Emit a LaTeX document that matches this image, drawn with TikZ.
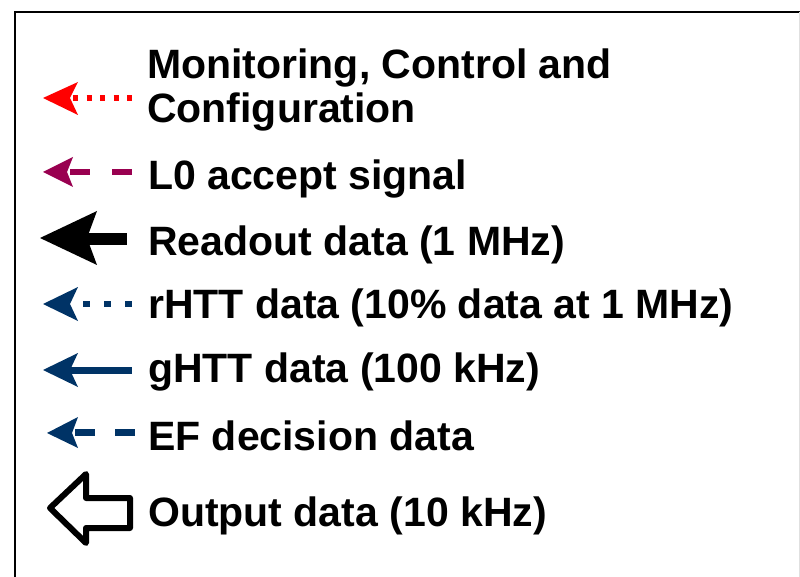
\documentclass[tikz,border=0pt]{standalone}
\usepackage{fontspec}
\setmainfont{Liberation Sans}
\definecolor{mccred}{RGB}{255,0,0}
\definecolor{lzero}{RGB}{153,0,80}
\definecolor{htnavy}{RGB}{0,51,102}
\tikzset{
  legtext/.style={anchor=base west, inner sep=0pt, align=left,
    font=\fontsize{41}{44}\selectfont\bfseries},
}
\begin{document}
\begin{tikzpicture}[x=1pt,y=-1pt]
\useasboundingbox (0,0) rectangle (800,577);
% frame
\draw[line width=2pt] (15,590) -- (15,12) -- (805,12);
\draw[line width=1pt, black!12] (799.5,12) -- (799.5,590);

% Monitoring, Control and Configuration
\fill[mccred] (43,98) -- (78,82) -- (70,98) -- (78,115) -- cycle;
\draw[mccred, line width=6pt, dash pattern=on 5pt off 8.5pt] (73,98) -- (132,98);
\node[legtext] (mcc) at (147,123) {Monitoring, Control and\\Configuration};

% L0 accept signal
\fill[lzero] (43,172) -- (73,157) -- (67,172) -- (73,187) -- cycle;
\draw[lzero, line width=6pt, dash pattern=on 20pt off 22pt] (70,172) -- (132,172);
\node[legtext] (l0) at (148,190) {L0 accept signal};

% Readout data
\fill[black] (40,238) -- (97,211) -- (87,238) -- (97,265) -- cycle;
\draw[black, line width=12pt] (86,239) -- (127,239);
\node[legtext] (ro) at (148,256) {Readout data (1 MHz)};

% rHTT data
\fill[htnavy] (43,304) -- (78,287) -- (70,304) -- (78,321) -- cycle;
\draw[htnavy, line width=6pt, dash pattern=on 7pt off 14pt] (83,304) -- (132,304);
\node[legtext] (rhtt) at (148,318) {rHTT data (10\% data at 1 MHz)};

% gHTT data
\fill[htnavy] (43,370) -- (78,353) -- (70,370) -- (78,387) -- cycle;
\draw[htnavy, line width=7pt] (69,370) -- (132,370);
\node[legtext] (ghtt) at (148,382) {gHTT data (100 kHz)};

% EF decision data
\fill[htnavy] (47,433) -- (78,417) -- (72,433) -- (78,448) -- cycle;
\draw[htnavy, line width=7pt, dash pattern=on 20pt off 20pt] (75,432.5) -- (136,432.5);
\node[legtext] (ef) at (148,450) {EF decision data};

% Output data
\draw[black, line width=6pt, line join=round, fill=white]
  (50,508) -- (86,474) -- (86,498) -- (130,498) -- (130,528) -- (86,528) -- (86,543) -- cycle;
\node[legtext] (out) at (148,526) {Output data (10 kHz)};
\end{tikzpicture}
\end{document}
